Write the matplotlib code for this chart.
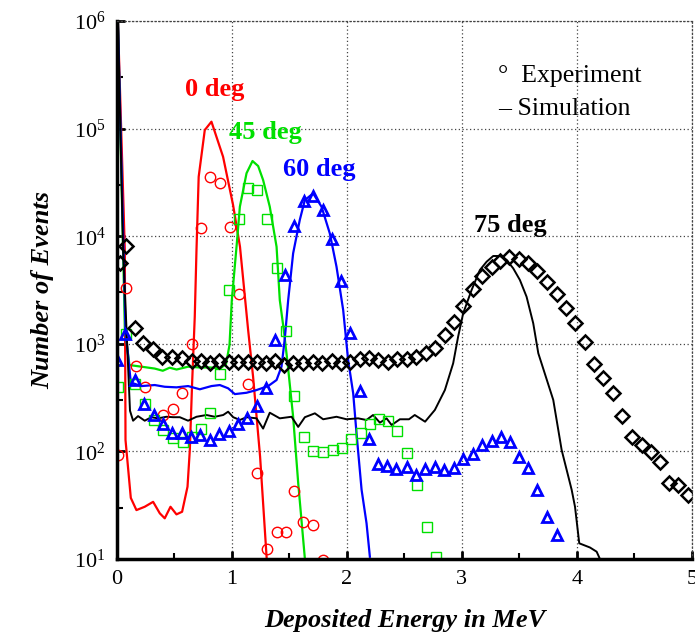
import numpy as np
import matplotlib
matplotlib.use("Agg")
import matplotlib.pyplot as plt
from matplotlib.ticker import LogLocator, FixedLocator, NullFormatter

plt.rcParams['font.family'] = ['Liberation Serif', 'DejaVu Serif']
plt.rcParams['mathtext.fontset'] = 'custom'
plt.rcParams['mathtext.rm'] = 'Liberation Serif'

# ---- 0 deg ----
sim0_e = [0.01, 0.07, 0.076, 0.122, 0.171, 0.243, 0.316, 0.374, 0.417, 0.467, 0.519, 0.568,
          0.615, 0.635, 0.655, 0.678, 0.693, 0.712, 0.765, 0.823, 0.924, 1.011, 1.071,
          1.142, 1.185, 1.246, 1.304]
sim0_n = [1e6, 7450, 128, 37, 28.5, 30.6, 34, 26.6, 23.9, 30.6, 26, 27.5,
          47, 103, 430, 1790, 7450, 35700, 97000, 116000, 54800, 19500, 8000,
          1340, 494, 89, 9.8]
exp0_e = [0.009, 0.078, 0.165, 0.248, 0.4, 0.49, 0.57, 0.655, 0.729, 0.809, 0.896, 0.98,
          1.059, 1.137, 1.215, 1.302, 1.389, 1.47, 1.542, 1.623, 1.71, 1.79]
exp0_n = [93, 3280, 622, 396, 216, 247, 347, 986, 11800, 35500, 31000, 12200,
          2890, 422, 63, 12.3, 18, 18, 43, 22, 20.7, 9.9]

# ---- 45 deg ----
sim45_e = [0.01, 0.07, 0.11, 0.215, 0.33, 0.4, 0.46, 0.52, 0.62, 0.72, 0.81, 0.9, 0.95,
           0.98, 1.0, 1.041, 1.07, 1.128, 1.18, 1.229, 1.272, 1.33, 1.389, 1.417, 1.452,
           1.482, 1.533, 1.577, 1.635]
sim45_n = [1e6, 1400, 635, 613, 589, 562, 600, 577, 613, 603, 603, 592, 649,
           975, 2550, 7980, 18800, 38500, 50000, 44900, 33300, 18800, 7980, 2550, 1340,
           707, 210, 51, 10.1]
exp45_e = [0.011, 0.076, 0.157, 0.246, 0.322, 0.403, 0.487, 0.574, 0.652, 0.729, 0.81,
           0.896, 0.978, 1.063, 1.142, 1.22, 1.302, 1.389, 1.47, 1.542, 1.626, 1.707,
           1.794, 1.877, 1.957, 2.033, 2.119, 2.2, 2.283, 2.359, 2.435, 2.524, 2.606,
           2.693, 2.774]
exp45_n = [394, 1230, 422, 278, 196, 157, 132, 123, 137, 163, 228,
           524, 3160, 14400, 27900, 26900, 14400, 5030, 1320, 329, 135, 102,
           99, 104, 107, 131, 148, 180, 202, 191, 156, 96, 49,
           19.7, 10.4]

# ---- 60 deg ----
sim60_e = [0.01, 0.076, 0.122, 0.215, 0.33, 0.417, 0.519, 0.62, 0.722, 0.823, 0.896,
           0.968, 1.026, 1.128, 1.215, 1.316, 1.389, 1.432, 1.461, 1.49, 1.533, 1.591,
           1.635, 1.707, 1.78, 1.852, 1.91, 1.968, 2.011, 2.055, 2.084, 2.128, 2.171, 2.2]
sim60_n = [1e6, 1340, 437, 405, 414, 399, 394, 405, 378, 405, 414,
           386, 341, 351, 372, 405, 461, 614, 1130, 2550, 6930, 14200,
           21700, 25000, 18800, 10600, 5210, 2060, 707, 347, 147, 44, 21.5, 10.5]
exp60_e = [0.006, 0.072, 0.157, 0.233, 0.32, 0.4, 0.484, 0.565, 0.645, 0.725, 0.809,
           0.893, 0.976, 1.055, 1.132, 1.215, 1.294, 1.377, 1.461, 1.542, 1.626, 1.707,
           1.789, 1.872, 1.951, 2.03, 2.113, 2.193, 2.272, 2.346, 2.429, 2.519, 2.6,
           2.678, 2.765, 2.843, 2.93, 3.006, 3.093, 3.171, 3.258, 3.337, 3.417, 3.498,
           3.577, 3.65, 3.742, 3.829]
exp60_n = [703, 1240, 458, 273, 220, 178, 147, 148, 137, 141, 128,
           144, 156, 178, 203, 263, 386, 1080, 4360, 12400, 21400, 23600,
           17500, 9370, 3810, 1250, 367, 130, 76, 74, 68, 72, 60,
           68, 71, 67, 70, 85, 95, 115, 126, 137, 123, 89,
           70, 44, 24.7, 16.7]

# ---- 75 deg ----
sim75_e = [0.01, 0.055, 0.115, 0.142, 0.185, 0.243, 0.301, 0.359, 0.432, 0.49, 0.548,
           0.62, 0.693, 0.78, 0.852, 0.925, 0.968, 1.012, 1.07, 1.128, 1.215, 1.272,
           1.33, 1.417, 1.519, 1.577, 1.635, 1.722, 1.794, 1.91, 1.997, 2.098, 2.17,
           2.228, 2.287, 2.345, 2.389, 2.461, 2.54, 2.59, 2.68, 2.765, 2.852, 2.924,
           2.967, 3.011, 3.084, 3.156, 3.215, 3.272, 3.33, 3.389, 3.446, 3.504, 3.562,
           3.62, 3.664, 3.794, 3.867, 3.954, 3.983, 4.02, 4.113, 4.171, 4.2]
sim75_n = [1e6, 7500, 239, 193, 213, 193, 208, 203, 210, 208, 208,
           193, 210, 218, 210, 218, 234, 208, 196, 208, 203, 163,
           229, 203, 210, 169, 208, 226, 199, 210, 199, 203, 196,
           218, 185, 203, 176, 199, 199, 218, 189, 243, 372, 659,
           1165, 1920, 3160, 4850, 5800, 6550, 6550, 6010, 5030, 3920, 2740,
           1550, 817, 301, 103, 44, 30.6, 14, 12.8, 11.7, 10]
exp75_e = [0.026, 0.076, 0.157, 0.229, 0.316, 0.397, 0.484, 0.563, 0.65, 0.73, 0.809,
           0.89, 0.977, 1.055, 1.137, 1.215, 1.296, 1.374, 1.455, 1.533, 1.615, 1.702,
           1.78, 1.867, 1.948, 2.026, 2.113, 2.194, 2.272, 2.354, 2.432, 2.519, 2.6,
           2.687, 2.765, 2.852, 2.93, 3.011, 3.098, 3.171, 3.258, 3.33, 3.411, 3.498,
           3.577, 3.655, 3.742, 3.823, 3.904, 3.983, 4.07, 4.15, 4.229, 4.316, 4.394,
           4.476, 4.563, 4.641, 4.722, 4.803, 4.881, 4.963]
exp75_n = [5640, 8110, 1400, 1020, 890, 760, 750, 733, 697, 692, 667,
           697, 682, 682, 682, 682, 667, 692, 635, 667, 667, 682,
           667, 697, 667, 682, 718, 733, 705, 682, 718, 718, 750,
           827, 908, 1210, 1610, 2250, 3210, 4270, 5210, 5890, 6370, 6100,
           5600, 4780, 3780, 2900, 2140, 1550, 1030, 646, 478, 347, 213,
           137, 114, 99, 80, 51, 49, 39]

fig = plt.figure(figsize=(6.95, 6.37), dpi=100)
ax = fig.add_axes([0.168, 0.1224, 0.8277, 0.8446])

red, green, blue = "#ff0000", "#00e000", "#0000ff"

# simulation lines
ax.plot(sim0_e, sim0_n, color=red, lw=1.6)
ax.plot(sim45_e, sim45_n, color=green, lw=1.6)
ax.plot(sim60_e, sim60_n, color=blue, lw=1.6)
ax.plot(sim75_e, sim75_n, color="black", lw=1.4)

# experiment markers
ax.plot(exp0_e, exp0_n, "o", mfc="none", mec=red, ms=7.5, mew=1.0, ls="none")
ax.plot(exp45_e, exp45_n, "s", mfc="none", mec=green, ms=7, mew=1.0, ls="none")
ax.plot(exp60_e, exp60_n, "^", mfc="none", mec=blue, ms=7, mew=2.0, ls="none")
ax.plot(exp75_e, exp75_n, "D", mfc="none", mec="black", ms=6.8, mew=1.8, ls="none")

ax.set_yscale("log")
ax.set_xlim(0, 5)
ax.set_ylim(10, 1e6)

ax.xaxis.set_major_locator(FixedLocator([0, 1, 2, 3, 4, 5]))
ax.xaxis.set_minor_locator(FixedLocator([0.5, 1.5, 2.5, 3.5, 4.5]))
ax.yaxis.set_major_locator(LogLocator(base=10, numticks=10))
ax.yaxis.set_minor_locator(LogLocator(base=10, subs=[3.0], numticks=10))
ax.yaxis.set_minor_formatter(NullFormatter())

ax.tick_params(which="major", direction="in", length=6, width=2, labelsize=16,
               top=False, right=False, pad=8)
ax.tick_params(which="minor", direction="in", length=4, width=1.5,
               top=False, right=False)

ax.grid(True, which="major", ls=(0, (1, 2)), color="#444444", lw=0.9)

for s in ["left", "bottom"]:
    ax.spines[s].set_linewidth(2.5)
for s in ["top", "right"]:
    ax.spines[s].set_linestyle((0, (1, 2)))
    ax.spines[s].set_color("#444444")
    ax.spines[s].set_linewidth(0.9)

ax.set_xlabel("Deposited Energy in MeV", fontsize=19, fontweight="bold",
              fontstyle="italic", labelpad=14)
ax.set_ylabel("Number of Events", fontsize=19, fontweight="bold",
              fontstyle="italic", labelpad=14)

# curve labels
ax.text(0.85, 2.3e5, "0 deg", color=red, fontsize=19, fontweight="bold",
        ha="center", va="center")
ax.text(1.29, 9.3e4, "45 deg", color=green, fontsize=19, fontweight="bold",
        ha="center", va="center")
ax.text(1.76, 4.2e4, "60 deg", color=blue, fontsize=19, fontweight="bold",
        ha="center", va="center")
ax.text(3.42, 1.25e4, "75 deg", color="black", fontsize=19, fontweight="bold",
        ha="center", va="center")

# legend as text
ax.text(0.663, 0.897, "\u00b0  Experiment", transform=ax.transAxes, fontsize=18.5,
        ha="left", va="center")
ax.text(0.663, 0.837, "\u2013 Simulation", transform=ax.transAxes, fontsize=18.5,
        ha="left", va="center")

fig.savefig("out.png", dpi=100)
